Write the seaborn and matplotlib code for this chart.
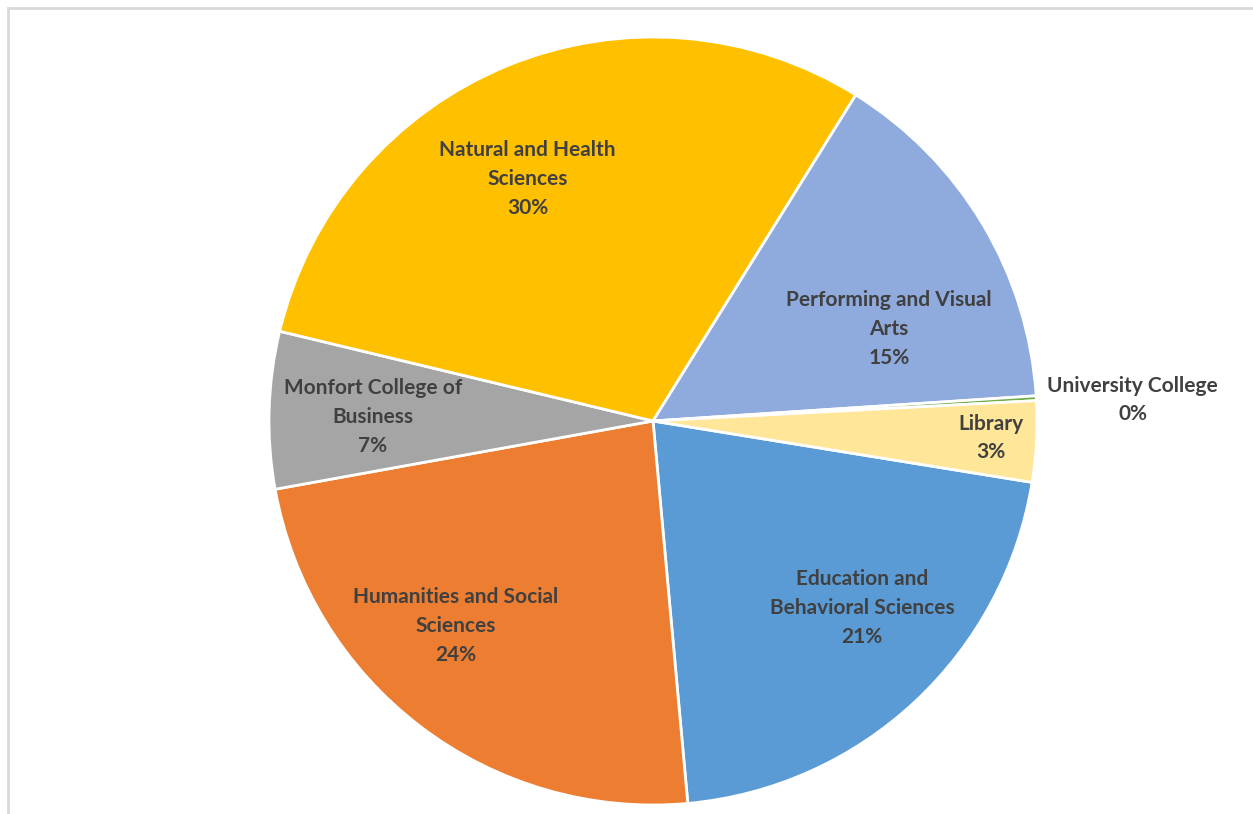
import numpy as np
import matplotlib
matplotlib.use("Agg")
import matplotlib.pyplot as plt
import matplotlib.patches as mpatches
import seaborn as sns

# slices, clockwise starting from Education
colleges = [
    "Education and Behavioral Sciences",
    "Humanities and Social Sciences",
    "Monfort College of Business",
    "Natural and Health Sciences",
    "Performing and Visual Arts",
    "University College",
    "Library",
]
display_labels = [
    "Education and\nBehavioral Sciences",
    "Humanities and Social\nSciences",
    "Monfort College of\nBusiness",
    "Natural and Health\nSciences",
    "Performing and Visual\nArts",
    "University College",
    "Library",
]
share = [21.0, 23.6, 6.6, 30.1, 15.1, 0.2, 3.4]
colors = ["#5B9BD5", "#ED7D31", "#A5A5A5", "#FFC000", "#8FAADC", "#70AD47", "#FFE699"]

# label placement (radius as fraction of pie radius, angular nudge in degrees)
label_r = [0.73, 0.74, 0.73, 0.71, 0.66, 1.25, 0.88]
label_shift = [-5.2, 6.6, -0.8, -5.1, 9.7, 0.9, -0.2]

sns.set_theme(style="white")
plt.rcParams["font.family"] = ["Lato", "DejaVu Sans"]

W, H = 1253, 814
fig = plt.figure(figsize=(W / 100, H / 100), dpi=100)
cx, cy, R = 653, 421, 384
ax = fig.add_axes([(cx - R) / W, (H - cy - R) / H, 2 * R / W, 2 * R / H])

wedges, _ = ax.pie(
    share,
    colors=sns.color_palette(colors),
    startangle=90 - 99.2,
    counterclock=False,
    radius=1,
    wedgeprops=dict(edgecolor="white", linewidth=2),
)
ax.set_xlim(-1, 1)
ax.set_ylim(-1, 1)
ax.set_aspect("equal")
ax.axis("off")

total = sum(share)
for w, lab, v, r, s in zip(wedges, display_labels, share, label_r, label_shift):
    mid = 90 - (w.theta1 + w.theta2) / 2 + s
    a = np.deg2rad(mid)
    ax.text(
        r * np.sin(a), r * np.cos(a),
        f"{lab}\n{v / total * 100:.0f}%",
        ha="center", va="center", fontsize=15, fontweight="bold",
        color="#404040", linespacing=1.55, clip_on=False,
    )

# chart area border (only top and left edge are visible)
fig.add_artist(mpatches.Rectangle(
    (8 / W, -0.1), 1.2, 1.1 - 8 / H, transform=fig.transFigure,
    fill=False, edgecolor="#D9D9D9", linewidth=2,
))

fig.savefig("out.png", dpi=100)
